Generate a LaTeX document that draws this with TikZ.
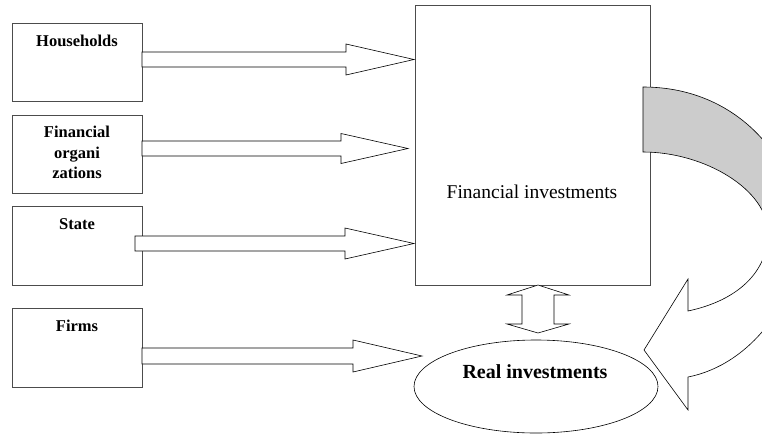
\documentclass[tikz,border=0pt]{standalone}
\usepackage{fontspec}
\setmainfont{Liberation Serif}
\usetikzlibrary{shapes.geometric}
\newcommand\blkarrow[6]{% x0, x1, xtip, ymid, shaft half, head half
  \draw[blk] (#1,{#4-#5}) -- (#2,{#4-#5}) -- (#2,{#4-#6}) -- (#3,#4) -- (#2,{#4+#6}) -- (#2,{#4+#5}) -- (#1,{#4+#5}) -- cycle;}
\begin{document}
\begin{tikzpicture}[x=1pt,y=-1pt,
  box/.style={draw=black!70, line width=0.7pt, inner sep=0pt, anchor=north west},
  lbl/.style={font=\bfseries\fontsize{16.5}{20.5}\selectfont, align=center, anchor=north, inner sep=0pt},
  blk/.style={draw=black, fill=white, line width=0.6pt, line join=miter}]
\useasboundingbox (0,0) rectangle (762,434);
\clip (0,0) rectangle (762,434);
% left boxes
\node[box, minimum width=130pt, minimum height=78pt] (hh) at (12,23) {};
\node[box, minimum width=130pt, minimum height=78pt] (fo) at (12,115) {};
\node[box, minimum width=130pt, minimum height=79pt] (st) at (12,206) {};
\node[box, minimum width=130pt, minimum height=79pt] (fi) at (12,308) {};
\node[lbl] (hhl) at (77,35) {Households};
\node[lbl] (fol) at (77,126) {Financial\\organi\\zations};
\node[lbl] (stl) at (77,218) {State};
\node[lbl] (fil) at (77,320) {Firms};
% main box
\node[box, minimum width=235pt, minimum height=280pt] (fin) at (415,5) {};
\node[font=\fontsize{19.5}{22}\selectfont, inner sep=0pt] (finl) at (532,192) {Financial investments};
% ellipse
\node[ellipse, draw=black, line width=0.6pt, minimum width=244pt, minimum height=93pt, inner sep=0pt] (real) at (536,386.5) {};
\node[font=\bfseries\fontsize{20}{22}\selectfont, inner sep=0pt] (reall) at (535,372) {Real investments};
% block arrows
\blkarrow{142}{346}{414}{59.5}{7.5}{15.5}
\blkarrow{142}{341}{408}{148.5}{7.5}{15}
\blkarrow{135}{345}{414}{243.5}{7.5}{15.5}
\blkarrow{142}{353}{422}{356}{8}{16}
% double arrow
\draw[blk] (538,285) -- (569,295) -- (554,295) -- (554,324) -- (569,324) -- (538,333) -- (507,324) -- (522,324) -- (522,295) -- (507,295) -- cycle;
% curved arrow
\draw[blk, fill=black!20] (643,87) .. controls (745,87) and (800,170) .. (800,232) -- (768,233) .. controls (768,190) and (705,152) .. (643,152) -- cycle;
\draw[blk] (800,232) .. controls (800,300) and (750,365) .. (688,377) -- (688,410) -- (644,350) -- (688,279) -- (688,311) .. controls (740,300) and (768,270) .. (768,233) -- cycle;
\end{tikzpicture}
\end{document}
